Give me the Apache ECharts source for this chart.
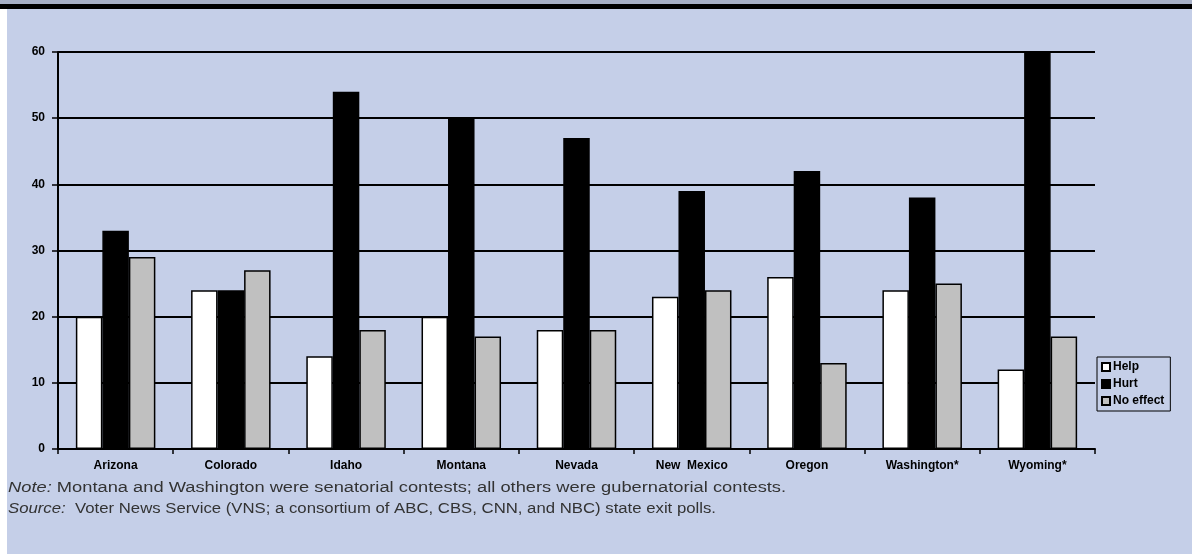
<!DOCTYPE html>
<html>
<head>
<meta charset="utf-8">
<script src="https://cdn.jsdelivr.net/npm/echarts@6/dist/echarts.min.js"></script>
<style>
html,body{margin:0;padding:0;background:#fff;}
#chart{width:1192px;height:554px;}
</style>
</head>
<body>
<div id="chart"></div>
<script>
const categories = ['Arizona','Colorado','Idaho','Montana','Nevada','New  Mexico','Oregon','Washington*','Wyoming*'];
const help     = [20, 24, 14, 20, 18, 23, 26, 24, 12];
const hurt     = [33, 24, 54, 50, 47, 39, 42, 38, 60];
const noEffect = [29, 27, 18, 17, 18, 24, 13, 25, 17];
const yTicks = [0, 10, 20, 30, 40, 50, 60];

const FONT = '"Liberation Sans", Arial, sans-serif';
const chart = echarts.init(document.getElementById('chart'));
const barStyle = (c) => ({ color: c, borderColor: '#000', borderWidth: 1.5 });
chart.setOption({
  animation: false,
  backgroundColor: '#c5cfe8',
  grid: { left: 58, right: 97, top: 52, bottom: 105, containLabel: false },
  legend: {
    orient: 'vertical', left: 1097, top: 357,
    itemWidth: 8, itemHeight: 8, itemGap: 5,
    icon: 'rect',
    borderColor: '#000', borderWidth: 1, padding: [4, 6, 4, 4],
    backgroundColor: '#c5cfe8',
    textStyle: { fontFamily: FONT, fontWeight: 'bold', fontSize: 12, color: '#000', padding: [0,0,0,-2] },
    data: ['Help', 'Hurt', 'No effect']
  },
  xAxis: {
    type: 'category', data: categories,
    axisLine: { lineStyle: { color: '#000', width: 2 } },
    axisTick: { show: true, length: 5, lineStyle: { color: '#000', width: 1.5 } },
    axisLabel: { fontFamily: FONT, fontWeight: 'bold', fontSize: 12, color: '#000', margin: 11 }
  },
  yAxis: {
    type: 'value', min: yTicks[0], max: yTicks[yTicks.length-1], interval: 10,
    axisLine: { show: true, lineStyle: { color: '#000', width: 2 } },
    axisTick: { show: true, length: 6, lineStyle: { color: '#000', width: 1.5 } },
    axisLabel: { fontFamily: FONT, fontWeight: 'bold', fontSize: 12, color: '#000', margin: 13 },
    splitLine: { show: true, lineStyle: { color: '#000', width: 2 } }
  },
  series: [
    { name: 'Help', type: 'bar', data: help, barGap: '0%', barCategoryGap: '31%', itemStyle: barStyle('#ffffff') },
    { name: 'Hurt', type: 'bar', data: hurt, barGap: '0%', barCategoryGap: '31%', itemStyle: barStyle('#000000') },
    { name: 'No effect', type: 'bar', data: noEffect, barGap: '0%', barCategoryGap: '31%', itemStyle: barStyle('#c0c0c0') }
  ],
  graphic: [
    { type: 'rect', left: 0, top: 0, shape: { width: 1192, height: 4 }, style: { fill: '#a7b0c6' } },
    { type: 'rect', left: 0, top: 4, shape: { width: 1192, height: 5 }, style: { fill: '#000' } },
    { type: 'rect', left: 0, top: 9, shape: { width: 7, height: 545 }, style: { fill: '#ffffff' } },
    { type: 'text', x: 8, y: 480, scaleX: 1.18, style: {
        text: '{i|Note:} Montana and Washington were senatorial contests; all others were gubernatorial contests.',
        rich: { i: { fontStyle: 'italic', fontFamily: FONT, fontSize: 15.5, fill: '#333' } },
        fontFamily: FONT, fontSize: 15.5, fill: '#333' } },
    { type: 'text', x: 8, y: 501, scaleX: 1.08, style: {
        text: '{i|Source:}  Voter News Service (VNS; a consortium of ABC, CBS, CNN, and NBC) state exit polls.',
        rich: { i: { fontStyle: 'italic', fontFamily: FONT, fontSize: 15.5, fill: '#333' } },
        fontFamily: FONT, fontSize: 15.5, fill: '#333' } }
  ]
});
</script>
</body>
</html>
